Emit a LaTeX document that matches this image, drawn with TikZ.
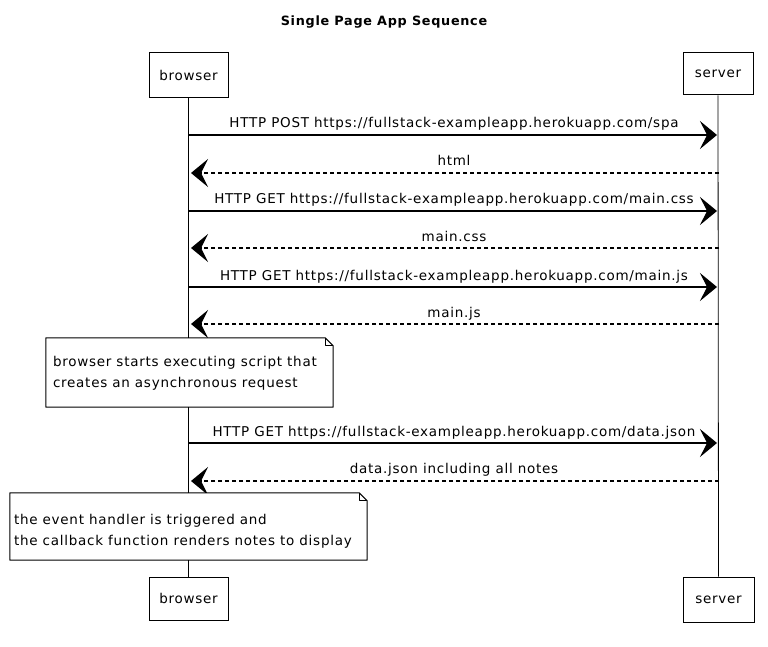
\documentclass[tikz,border=0pt]{standalone}
\usepackage{fontspec}
\setmainfont{DejaVu Sans}[LetterSpace=5.5]
\usetikzlibrary{arrows.meta}
\begin{document}
\begin{tikzpicture}[x=1pt,y=-1pt,
  every node/.style={font=\fontsize{13.5}{21}\selectfont},
  actor/.style={draw, line width=1pt, inner sep=0pt, fill=white},
  lifeline/.style={line width=0.8pt},
  msg/.style={line width=1.2pt, shorten >=2pt, -{Stealth[length=17pt,width=28pt,inset=7pt]}},
  reply/.style={msg, dash pattern=on 4pt off 3pt},
  lbl/.style={inner sep=0pt, anchor=base},
  notebox/.style={fill=white, inner sep=0pt},
  notetext/.style={inner sep=0pt, align=left, anchor=west},
  noteline/.style={line width=1pt, line join=round}
]
\useasboundingbox (0,0) rectangle (768,647);

% title
\node[font=\fontsize{12.8}{18}\selectfont\bfseries] (title) at (384,22) {Single Page App Sequence};

% actors
\node[actor, minimum width=79pt, minimum height=45pt] (bt) at (188.5,75) {browser};
\node[actor, minimum width=70pt, minimum height=42pt] (st) at (718,74) {server};
\node[actor, minimum width=79pt, minimum height=43pt] (bb) at (188.5,598.5) {browser};
\node[actor, minimum width=71pt, minimum height=45pt] (sb) at (718.5,599.5) {server};

% lifelines
\draw[lifeline] (bt.south) -- (bb.north);
\draw[lifeline] (st.south) -- (sb.north);

% message anchor points
\foreach \i/\y in {1/135,2/173,3/211,4/248,5/287,6/324,7/443,8/481}{
  \coordinate (b\i) at (189,\y);
  \coordinate (s\i) at (719,\y);
}

\draw[msg] (b1) -- (s1);
\node[lbl] (l1) at (454,128) {HTTP POST https://fullstack-exampleapp.herokuapp.com/spa};
\draw[reply] (s2) -- (b2);
\node[lbl] (l2) at (454,166) {html};
\draw[msg] (b3) -- (s3);
\node[lbl] (l3) at (454,204) {HTTP GET https://fullstack-exampleapp.herokuapp.com/main.css};
\draw[reply] (s4) -- (b4);
\node[lbl] (l4) at (454,241) {main.css};
\draw[msg] (b5) -- (s5);
\node[lbl] (l5) at (454,280) {HTTP GET https://fullstack-exampleapp.herokuapp.com/main.js};
\draw[reply] (s6) -- (b6);
\node[lbl] (l6) at (454,317) {main.js};
\draw[msg] (b7) -- (s7);
\node[lbl] (l7) at (454,436) {HTTP GET https://fullstack-exampleapp.herokuapp.com/data.json};
\draw[reply] (s8) -- (b8);
\node[lbl] (l8) at (454,473) {data.json including all notes};

% note 1
\node[notebox, minimum width=287pt, minimum height=69pt] (n1) at (189.5,372.5) {};
\draw[noteline] (n1.north west) -- ([xshift=-8pt]n1.north east) -- ([yshift=-8pt]n1.north east)
  -- (n1.south east) -- (n1.south west) -- cycle;
\draw[noteline] ([xshift=-8pt]n1.north east) -- ([xshift=-8pt,yshift=-8pt]n1.north east) -- ([yshift=-8pt]n1.north east);
\node[notetext] (t1) at ([xshift=7pt,yshift=-1pt]n1.west)
  {browser starts executing script that\\creates an asynchronous request};

% note 2
\node[notebox, minimum width=357pt, minimum height=67pt] (n2) at (188.5,526.5) {};
\draw[noteline] (n2.north west) -- ([xshift=-8pt]n2.north east) -- ([yshift=-8pt]n2.north east)
  -- (n2.south east) -- (n2.south west) -- cycle;
\draw[noteline] ([xshift=-8pt]n2.north east) -- ([xshift=-8pt,yshift=-8pt]n2.north east) -- ([yshift=-8pt]n2.north east);
\node[notetext] (t2) at ([xshift=4pt,yshift=-5pt]n2.west)
  {the event handler is triggered and\\the callback function renders notes to display};
\end{tikzpicture}
\end{document}
